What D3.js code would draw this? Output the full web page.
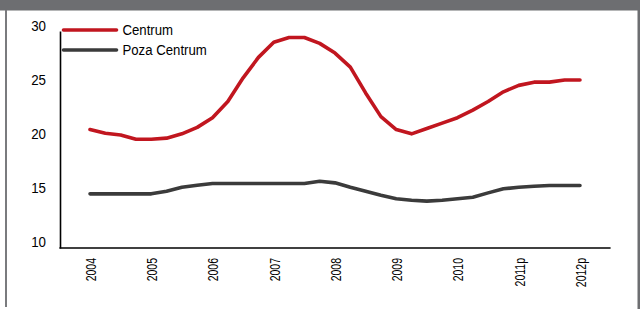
<!DOCTYPE html>
<html>
<head>
<meta charset="utf-8">
<script src="https://cdn.jsdelivr.net/npm/d3@7"></script>
<style>
  html, body { margin: 0; padding: 0; background: #fff; }
  svg { display: block; font-family: "Liberation Sans", Arial, sans-serif; }
</style>
</head>
<body>
<svg id="chart" width="640" height="309"></svg>
<script>
// ---- data (quarterly, 2004 Q1 .. 2012 Q1) ----
const years = ["2004", "2005", "2006", "2007", "2008", "2009", "2010", "2011p", "2012p"];
const seriesNames = ["Centrum", "Poza Centrum"];
const centrum = [20.4, 20.05, 19.9, 19.5, 19.5, 19.6, 20.0, 20.6, 21.5, 23.0, 25.2, 27.1, 28.5,
  28.95, 28.95, 28.4, 27.5, 26.2, 23.8, 21.6, 20.4, 20.0, 20.5, 21.0, 21.5, 22.2, 23.0, 23.9,
  24.5, 24.8, 24.8, 25.0, 25.0];
const pozaCentrum = [14.43, 14.43, 14.43, 14.43, 14.43, 14.67, 15.04, 15.23, 15.39, 15.39, 15.39,
  15.39, 15.39, 15.39, 15.39, 15.6, 15.45, 15.04, 14.67, 14.3, 13.97, 13.84, 13.75, 13.84, 13.97,
  14.12, 14.52, 14.9, 15.04, 15.14, 15.2, 15.2, 15.2];
const yTicks = [10, 15, 20, 25, 30];
const colors = ["#c1161f", "#3b3b3b"];

const svg = d3.select("#chart");

// frame
svg.append("rect").attr("x", 0).attr("y", 0).attr("width", 640).attr("height", 10.5).attr("fill", "#6d6e71");
svg.append("rect").attr("x", 5).attr("y", 10).attr("width", 2).attr("height", 297).attr("fill", "#7a7b7e");
svg.append("rect").attr("x", 637.5).attr("y", 10).attr("width", 2.5).attr("height", 299).attr("fill", "#6d6e71");

// scales
const x = d3.scalePoint().domain(years).range([59.4, 610.6]).padding(0.5);
const step = x.step();
const xq = d3.scaleLinear().domain([0, 32]).range([x(years[0]), x(years[years.length - 1])]);
const y = d3.scaleLinear().domain([9.4, 29.55]).range([248, 31]);
const yLab = d3.scaleLinear().domain([10, 30]).range([241.7, 26]);

// axes
const gy = svg.append("g").attr("transform", "translate(60,0)")
  .call(d3.axisLeft(y).tickValues([]).tickSizeOuter(0));
gy.select(".domain").attr("stroke", "#000").attr("stroke-width", 1.6);
svg.append("g").selectAll("text").data(yTicks).join("text")
  .attr("transform", d => `translate(46,${yLab(d)}) scale(0.92,1)`)
  .attr("dy", "0.36em")
  .attr("text-anchor", "end").attr("font-size", 14.5).attr("fill", "#000")
  .text(d => d);

const gx = svg.append("g").attr("transform", "translate(0,248)")
  .call(d3.axisBottom(x).tickSize(0).tickSizeOuter(0));
gx.select(".domain").attr("stroke", "#000").attr("stroke-width", 1.6)
  .attr("d", `M${x(years[0]) - step / 2},0H${x(years[years.length - 1]) + step / 2}`);
gx.selectAll(".tick text")
  .attr("font-family", "'Liberation Sans', Arial, sans-serif")
  .attr("font-size", 15).attr("fill", "#000")
  .attr("text-anchor", "end")
  .attr("transform", "translate(0,10) rotate(-90) scale(0.7,1)")
  .attr("x", 0).attr("y", 0).attr("dy", "0.36em");

// lines
const line = d3.line().x((d, i) => xq(i)).y(d => y(d));
[centrum, pozaCentrum].forEach((s, i) => {
  svg.append("path").datum(s)
    .attr("fill", "none").attr("stroke", colors[i]).attr("stroke-width", 3.6)
    .attr("stroke-linejoin", "round").attr("stroke-linecap", "round")
    .attr("d", line);
});

// legend
const lg = svg.append("g");
seriesNames.forEach((name, i) => {
  const ly = 30 + i * 20;
  lg.append("line").attr("x1", 63.5).attr("x2", 116.5).attr("y1", ly).attr("y2", ly)
    .attr("stroke", colors[i]).attr("stroke-width", 3.6).attr("stroke-linecap", "round");
  lg.append("text").attr("transform", `translate(122.5,${ly}) scale(0.88,1)`)
    .attr("dy", "0.36em")
    .attr("font-size", 15).attr("fill", "#000").text(name);
});
</script>
</body>
</html>
